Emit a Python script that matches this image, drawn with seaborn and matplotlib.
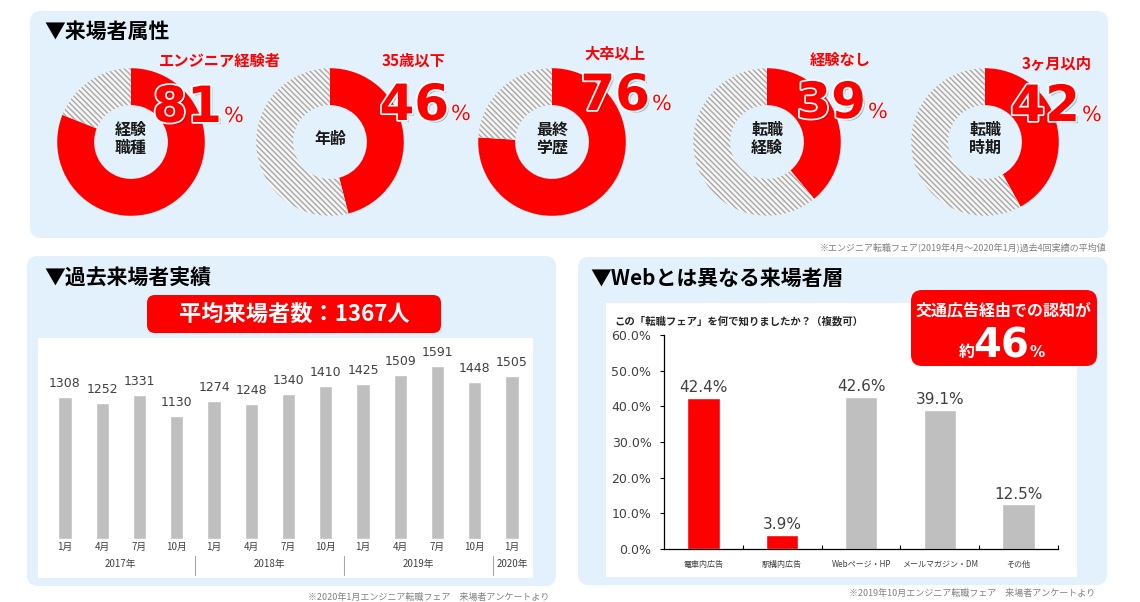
import numpy as np
import pandas as pd
import matplotlib.pyplot as plt
import matplotlib.patheffects as pe
import matplotlib.transforms as mtrans
from matplotlib.patches import FancyBboxPatch, Rectangle
import seaborn as sns

# 来場者属性
attr_titles = ['エンジニア経験者', '35歳以下', '大卒以上', '経験なし', '3ヶ月以内']
attr_centers = ['経験\n職種', '年齢', '最終\n学歴', '転職\n経験', '転職\n時期']
attr_values = [81, 46, 76, 39, 42]

# 過去来場者実績
visit_months = ['1月', '4月', '7月', '10月'] * 3 + ['1月']
visit_year = ['2017年'] * 4 + ['2018年'] * 4 + ['2019年'] * 4 + ['2020年']
visitors = [1308, 1252, 1331, 1130, 1274, 1248, 1340, 1410, 1425, 1509, 1591, 1448, 1505]
visit_avg = 1367

# Webとは異なる来場者層
sources = ['電車内広告', '駅構内広告', 'Webページ・HP', 'メールマガジン・DM', 'その他']
source_pct = [42.4, 3.9, 42.6, 39.1, 12.5]
source_transit = [True, True, False, False, False]
transit_share = 46

W, H = 1140, 602
RED = '#ff0000'
GRAY = '#bfbfbf'
PANEL = '#e2f1fb'
TXT = '#404040'
JP = ['Noto Sans CJK JP', 'DejaVu Sans']
NUM = ['DejaVu Sans', 'Noto Sans CJK JP']

sns.set_theme(style='white')
plt.rcParams['font.family'] = JP
plt.rcParams['hatch.linewidth'] = 1.1

fig = plt.figure(figsize=(W / 100, H / 100), dpi=100)
fig.patch.set_facecolor('white')


def rect(x0, y0, x1, y1):
    # pixel box (top-left origin) -> figure fraction
    return [x0 / W, 1 - y1 / H, (x1 - x0) / W, (y1 - y0) / H]


def overlay(z):
    a = fig.add_axes([0, 0, 1, 1], zorder=z)
    a.set_xlim(0, W)
    a.set_ylim(H, 0)
    a.axis('off')
    return a


bg = overlay(0)
for x0, y0, x1, y1 in [(30, 11, 1108, 238), (27, 256, 556, 586), (578, 257, 1107, 585)]:
    bg.add_patch(FancyBboxPatch((x0, y0), x1 - x0, y1 - y0, boxstyle='round,pad=0,rounding_size=11',
                                fc=PANEL, ec='none'))
bg.add_patch(Rectangle((38, 338), 495, 240, fc='white', ec='none'))
bg.add_patch(Rectangle((606, 303), 471, 274, fc='white', ec='none'))

# --- donuts ---
donut_cx = [131, 330, 552, 767, 985]
donut_cy = 142
num_right = [222, 449, 650, 866, 1080]
num_base = [122, 120, 110, 118, 121]
lab_x = [220, 414, 615, 840, 1057]
lab_y = [61, 61, 54, 60, 63]

for cx, v in zip(donut_cx, attr_values):
    ax = fig.add_axes(rect(cx - 76, donut_cy - 76, cx + 76, donut_cy + 76), zorder=1)
    wedges, _ = ax.pie([v, 100 - v], startangle=90, counterclock=False,
                       colors=[RED, '#f7f7f7'], wedgeprops=dict(width=0.5, linewidth=0))
    wedges[1].set_hatch('\\' * 6)
    wedges[1].set_edgecolor('#acacac')
    wedges[1].set_linewidth(0)
    ax.axis('off')
    ax.set_xlim(-1.03, 1.03)
    ax.set_ylim(-1.03, 1.03)

fg = overlay(10)

fg.text(44, 31, '▼来場者属性', fontsize=15, fontweight='bold', va='center', color='black')
fg.text(44, 278, '▼過去来場者実績', fontsize=15, fontweight='bold', va='center', color='black')
fg.text(590, 278, '▼Webとは異なる来場者層', fontsize=15, fontweight='bold', va='center', color='black')

big_fx = [pe.SimplePatchShadow(offset=(1.5, -1.5), shadow_rgbFace='black', alpha=0.25),
          pe.Stroke(linewidth=2.5, foreground='white'), pe.Normal()]
small_fx = [pe.Stroke(linewidth=1.2, foreground='white'), pe.Normal()]

for i, (cx, v) in enumerate(zip(donut_cx, attr_values)):
    fg.text(cx, donut_cy - 3, attr_centers[i], ha='center', va='center', fontsize=11.5,
            fontweight='bold', color='#1a1a1a', linespacing=1.15)
    fg.text(lab_x[i], lab_y[i], attr_titles[i], ha='center', va='center', fontsize=11,
            fontweight='bold', color=RED)
    fg.text(num_right[i], num_base[i], str(v), ha='right', va='baseline', fontsize=36,
            fontweight='bold', color=RED, family=NUM, path_effects=big_fx)
    fg.text(num_right[i] + 2, num_base[i], '%', ha='left', va='baseline', fontsize=15,
            color=RED, family=NUM, path_effects=small_fx)

fg.text(1106, 247, '※エンジニア転職フェア(2019年4月～2020年1月)過去4回実績の平均値',
        ha='right', va='center', fontsize=6.5, color='#808080')

# --- 過去来場者実績 ---
fg.add_patch(FancyBboxPatch((147, 295), 294, 38, boxstyle='round,pad=0,rounding_size=8',
                            fc=RED, ec='none'))
fg.text(294, 314, f'平均来場者数：{visit_avg}人', ha='center', va='center', fontsize=16,
        fontweight='bold', color='white')

ax1 = fig.add_axes(rect(38, 338, 533, 539), zorder=2)
ax1.patch.set_alpha(0)
sns.barplot(x=list(range(len(visitors))), y=visitors, color=GRAY, saturation=1, width=0.35, ax=ax1)
ax1.bar_label(ax1.containers[0], fmt='%d', padding=5, fontsize=9, color=TXT, family=NUM)
ax1.set_xlim(-0.725, 12.564)
ax1.set_ylim(0, 1852)
ax1.set_yticks([])
ax1.set_xticks(range(len(visit_months)), visit_months)
ax1.tick_params(axis='x', length=0, pad=2, labelsize=7, labelcolor=TXT)
ax1.set_xlabel('')
ax1.set_ylabel('')
sns.despine(ax=ax1, left=True, bottom=True)
tr = mtrans.blended_transform_factory(ax1.transData, ax1.transAxes)
years = list(dict.fromkeys(visit_year))
for k, yr in enumerate(years):
    idx = [i for i, y in enumerate(visit_year) if y == yr]
    ax1.text(np.mean(idx), -0.124, yr, transform=tr, ha='center', va='center', fontsize=7, color=TXT)
    if k > 0:
        ax1.plot([idx[0] - 0.5] * 2, [-0.085, -0.18], transform=tr, clip_on=False,
                 color='#a6a6a6', lw=0.8)

fg.text(549, 597, '※2020年1月エンジニア転職フェア　来場者アンケートより',
        ha='right', va='center', fontsize=6.5, color='#808080')

# --- Webとは異なる来場者層 ---
fg.text(614, 321, 'この「転職フェア」を何で知りましたか？（複数可）', ha='left', va='center',
        fontsize=7.5, fontweight='bold', color='#262626')

df = pd.DataFrame({'source': sources, 'pct': source_pct})
palette = {s: (RED if t else GRAY) for s, t in zip(sources, source_transit)}
ax2 = fig.add_axes(rect(664, 335, 1058, 549), zorder=2)
ax2.patch.set_alpha(0)
sns.barplot(df, x='source', y='pct', hue='source', palette=palette, width=0.41, saturation=1,
            legend=False, ax=ax2)
for c in ax2.containers:
    ax2.bar_label(c, fmt='%.1f%%', padding=2, fontsize=11, color=TXT, family=NUM)
ax2.set_xlim(-0.5, len(sources) - 0.5)
ax2.set_ylim(0, 60)
ax2.set_yticks(range(0, 61, 10), [f'{v:.1f}%' for v in range(0, 61, 10)])
ax2.set_xticks([i + 0.5 for i in range(len(sources))], minor=True)
ax2.set_xlabel('')
ax2.set_ylabel('')
sns.despine(ax=ax2)
for s in ['left', 'bottom']:
    ax2.spines[s].set_color('black')
    ax2.spines[s].set_linewidth(0.9)
ax2.tick_params(axis='y', left=True, direction='out', length=3, width=0.8, color='black',
                labelsize=9, labelcolor=TXT, pad=6)
ax2.tick_params(axis='x', which='major', length=0, pad=8, labelsize=5.8, labelcolor=TXT)
ax2.tick_params(axis='x', which='minor', bottom=True, direction='in', length=3, width=0.8, color='black')
for t in ax2.get_yticklabels():
    t.set_family(NUM)

fg.add_patch(FancyBboxPatch((911, 290), 186, 76, boxstyle='round,pad=0,rounding_size=11',
                            fc=RED, ec='none'))
fg.text(1004, 310, '交通広告経由での認知が', ha='center', va='center', fontsize=11.5,
        fontweight='bold', color='white')
fg.text(1001.5, 357, str(transit_share), ha='center', va='baseline', fontsize=29,
        fontweight='bold', color='white', family=NUM)
fg.text(975, 357, '約', ha='right', va='baseline', fontsize=11.5, fontweight='bold', color='white')
fg.text(1029, 357, '%', ha='left', va='baseline', fontsize=11, fontweight='bold', color='white', family=NUM)

fg.text(1095, 593, '※2019年10月エンジニア転職フェア　来場者アンケートより',
        ha='right', va='center', fontsize=6.5, color='#808080')

fig.savefig('out.png', dpi=100)
